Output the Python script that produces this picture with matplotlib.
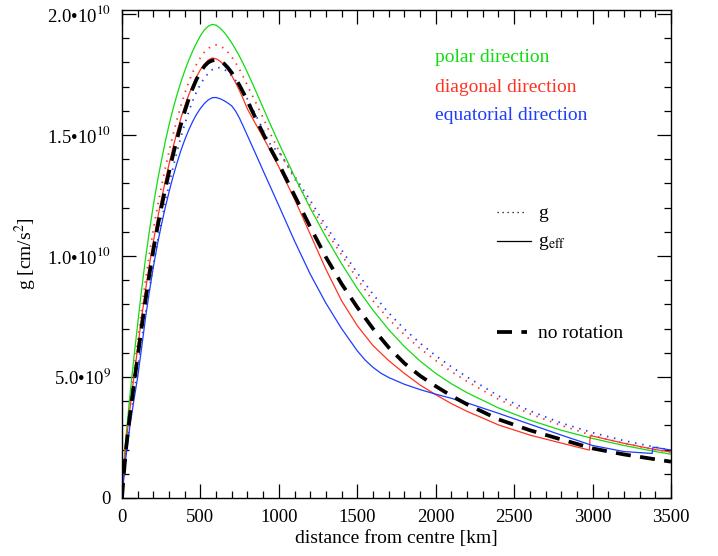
import matplotlib
matplotlib.use('Agg')
import matplotlib.pyplot as plt
from matplotlib.ticker import MultipleLocator, FuncFormatter
from matplotlib.lines import Line2D

plt.rcParams['font.family'] = ['Liberation Serif', 'DejaVu Serif']
plt.rcParams['mathtext.fontset'] = 'stix'

# ---------------- data (g in units of 1e9 cm/s^2, r in km) ----------------
r_grid = [0, 10, 25, 50, 75, 100, 125, 150, 175, 200, 225, 250, 275, 300, 325,
          350, 375, 400, 425, 450, 475, 500, 525, 550, 575, 600, 625, 650, 675,
          700, 725, 750, 775, 800, 850, 900, 950, 1000, 1100, 1200, 1300, 1400,
          1500, 1600, 1700, 1800, 1900, 2000, 2100, 2200, 2400, 2600, 2800,
          3000, 3200, 3400, 3500]

polar_geff = [0, 1.1, 2.5, 4.2, 5.75, 7.2, 8.6, 9.9, 11.05, 12.1, 13.05, 13.9,
              14.7, 15.42, 16.07, 16.65, 17.18, 17.65, 18.08, 18.46, 18.8, 19.1,
              19.34, 19.5, 19.57, 19.54, 19.42, 19.25, 19.04, 18.8, 18.53, 18.24,
              17.92, 17.58, 16.86, 16.12, 15.38, 14.66, 13.28, 11.98, 10.78,
              9.68, 8.66, 7.76, 6.96, 6.26, 5.66, 5.15, 4.72, 4.35, 3.72, 3.22,
              2.8, 2.46, 2.17, 1.92, 1.81]

norot = [0, 0.85, 2.0, 3.4, 4.65, 5.85, 7.05, 8.2, 9.25, 10.25, 11.15, 11.98,
         12.75, 13.48, 14.17, 14.82, 15.42, 15.98, 16.48, 16.92, 17.3, 17.6,
         17.84, 18.0, 18.08, 18.1, 18.05, 17.95, 17.78, 17.57, 17.32, 17.04,
         16.73, 16.4, 15.72, 15.05, 14.4, 13.8, 12.5, 11.2, 9.95, 8.85, 7.88,
         7.0, 6.22, 5.57, 5.05, 4.62, 4.22, 3.87, 3.25, 2.8, 2.42, 2.05, 1.8,
         1.6, 1.5]

diag_g = [0, 1.0, 2.3, 3.85, 5.2, 6.5, 7.8, 9.0, 10.1, 11.1, 12.0, 12.82, 13.6,
          14.32, 15.0, 15.62, 16.2, 16.72, 17.18, 17.58, 17.92, 18.2, 18.42,
          18.58, 18.68, 18.72, 18.68, 18.58, 18.42, 18.22, 17.98, 17.7, 17.38,
          17.04, 16.38, 15.7, 15.0, 14.35, 13.2, 12.1, 11.05, 10.05, 9.05,
          8.15, 7.4, 6.75, 6.18, 5.68, 5.22, 4.82, 4.08, 3.48, 3.0, 2.58, 2.26,
          2.0, 1.9]

equat_g = [0, 0.75, 1.8, 3.1, 4.25, 5.35, 6.5, 7.6, 8.65, 9.62, 10.55, 11.4,
           12.2, 12.95, 13.65, 14.3, 14.9, 15.45, 15.95, 16.4, 16.78, 17.1,
           17.35, 17.55, 17.7, 17.78, 17.78, 17.72, 17.6, 17.44, 17.25, 17.02,
           16.76, 16.48, 15.86, 15.2, 14.55, 14.3, 13.3, 12.3, 11.25, 10.25,
           9.3, 8.42, 7.65, 6.98, 6.4, 5.88, 5.42, 5.0, 4.22, 3.6, 3.1, 2.7,
           2.37, 2.1, 1.98]

r_diag = [0, 10, 25, 50, 75, 100, 125, 150, 175, 200, 225, 250, 275, 300, 325,
          350, 375, 400, 425, 450, 475, 500, 525, 550, 575, 600, 625, 650, 675,
          700, 725, 750, 775, 800, 850, 900, 950, 1000, 1100, 1200, 1300, 1400,
          1500, 1600, 1700, 1800, 1900, 2000, 2100, 2200, 2400, 2600, 2800,
          2980, 2985, 3000, 3200, 3400, 3500]
diag_geff = [0, 0.95, 2.2, 3.65, 4.95, 6.2, 7.45, 8.6, 9.65, 10.6, 11.5, 12.3,
             13.07, 13.8, 14.48, 15.1, 15.68, 16.2, 16.65, 17.05, 17.4, 17.7,
             17.93, 18.1, 18.18, 18.15, 18.05, 17.9, 17.7, 17.45, 17.15, 16.82,
             16.46, 16.07, 15.48, 14.9, 14.3, 13.68, 12.35, 10.9, 9.45, 8.15,
             7.12, 6.3, 5.68, 5.15, 4.67, 4.27, 3.9, 3.58, 3.02, 2.6, 2.27,
             1.98, 2.57, 2.56, 2.26, 2.0, 1.9]

r_equat = [0, 10, 25, 50, 75, 100, 125, 150, 175, 200, 225, 250, 275, 300, 325,
           350, 375, 400, 425, 450, 475, 500, 525, 550, 575, 600, 625, 650, 675,
           700, 725, 750, 775, 800, 850, 900, 950, 1000, 1100, 1200, 1300, 1400,
           1500, 1550, 1600, 1650, 1700, 1800, 1900, 2000, 2100, 2200, 2400,
           2600, 2800, 3000, 3200, 3380, 3385, 3400, 3500]
equat_geff = [0, 0.7, 1.7, 2.95, 4.0, 5.0, 6.2, 7.45, 8.55, 9.55, 10.45, 11.25,
              11.98, 12.65, 13.27, 13.83, 14.35, 14.8, 15.2, 15.55, 15.85, 16.1,
              16.3, 16.45, 16.54, 16.55, 16.5, 16.42, 16.32, 16.2, 15.98, 15.68,
              15.33, 14.97, 14.25, 13.52, 12.8, 12.08, 10.62, 9.25, 8.05, 7.0,
              6.08, 5.7, 5.4, 5.16, 4.98, 4.7, 4.48, 4.29, 4.12, 3.93, 3.5,
              3.05, 2.6, 2.17, 1.92, 1.84, 2.1, 2.09, 1.98]

ytick_vals = [0, 5e9, 1e10, 1.5e10, 2e10]
xtick_vals = [0, 500, 1000, 1500, 2000, 2500, 3000, 3500]

GREEN = '#10dc10'
RED = '#ff3322'
BLUE = '#1e3cff'

# ---------------- figure ----------------
W, H = 718, 556
fig = plt.figure(figsize=(W / 100, H / 100), dpi=100)
ax = fig.add_axes([122 / W, 1 - 498 / H, (671 - 122) / W, (498 - 10) / H])

sc = 1e9
ax.plot(r_grid, [v * sc for v in diag_g], color=RED, lw=1.3,
        linestyle=(0, (0.8, 3.2)))
ax.plot(r_grid, [v * sc for v in equat_g], color=BLUE, lw=1.3,
        linestyle=(0, (0.8, 3.2)))
ax.plot(r_grid, [v * sc for v in polar_geff], color=GREEN, lw=0.9)
ax.plot(r_diag, [v * sc for v in diag_geff], color=RED, lw=0.9)
ax.plot(r_equat, [v * sc for v in equat_geff], color=BLUE, lw=0.9)
ax.plot(r_grid, [v * sc for v in norot], color='black', lw=2.7,
        linestyle=(0, (4, 2.5)))

ax.set_xlim(0, 3500)
ax.set_ylim(0, 2.0165e10)
ax.set_xticks(xtick_vals)
ax.set_yticks(ytick_vals)
ax.xaxis.set_minor_locator(MultipleLocator(100))
ax.yaxis.set_minor_locator(MultipleLocator(1e9))


def yfmt(v, pos):
    if v == 0:
        return '0'
    e = 0
    m = v
    while m >= 10:
        m /= 10
        e += 1
    return '%.1f\u202210$^{%d}$' % (m, e)


ax.yaxis.set_major_formatter(FuncFormatter(yfmt))
ax.tick_params(which='both', direction='in', top=True, right=True,
               labelsize=13.5, width=0.9, color='black')
ax.tick_params(which='major', length=10, pad=8)
ax.tick_params(which='minor', length=5)
for s in ax.spines.values():
    s.set_linewidth(1.0)

ax.set_xlabel('distance from centre [km]', fontsize=14, labelpad=3)
ax.set_ylabel('g [cm/s$^2$]', fontsize=14, labelpad=6)


def fx(px):
    return px / W


def fy(py):
    return 1 - py / H


fs = 14
fig.text(fx(435), fy(57), 'polar direction', color=GREEN, fontsize=fs, va='center')
fig.text(fx(435), fy(87), 'diagonal direction', color=RED, fontsize=fs, va='center')
fig.text(fx(435), fy(116), 'equatorial direction', color=BLUE, fontsize=fs, va='center')

fig.add_artist(Line2D([fx(497), fx(527)], [fy(212), fy(212)], color='black',
                      lw=0.9, linestyle=(0, (1, 3))))
fig.text(fx(538), fy(214), 'g', fontsize=fs, va='center')
fig.add_artist(Line2D([fx(497), fx(531)], [fy(241), fy(241)], color='black', lw=0.9))
fig.text(fx(538), fy(243), 'g$_{\\rm eff}$', fontsize=fs, va='center')
fig.add_artist(Line2D([fx(497), fx(527)], [fy(332), fy(332)], color='black',
                      lw=2.7, linestyle=(0, (4, 2.5))))
fig.text(fx(538), fy(333), 'no rotation', fontsize=fs, va='center')

fig.savefig('out.png', dpi=100)
